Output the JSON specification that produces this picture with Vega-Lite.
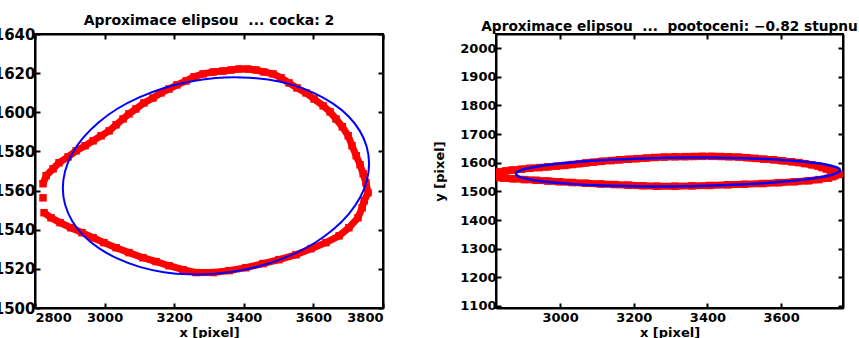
{
  "$schema": "https://vega.github.io/schema/vega-lite/v6.json",
  "background": "white",
  "padding": {"left": -8, "top": 13, "right": 0, "bottom": 0},
  "spacing": 47,
  "config": {
    "view": {"stroke": "#000", "strokeWidth": 2},
    "title": {"font": "DejaVu Sans", "fontSize": 14, "fontWeight": "bold", "color": "#000", "offset": -1},
    "axis": {
      "labelFont": "DejaVu Sans", "labelFontSize": 13, "labelFontWeight": "bold", "labelColor": "#000",
      "titleFont": "DejaVu Sans", "titleFontSize": 13, "titleFontWeight": "bold", "titleColor": "#000",
      "tickColor": "#000", "tickSize": -5, "tickWidth": 2, "domainColor": "#000", "domainWidth": 2,
      "grid": false, "labelPadding": 5, "format": "d"
    }
  },
  "datasets": {
    "red": [
      {"i": 0, "seg": "a", "x": 2823, "y": 1563.5},
      {"i": 1, "seg": "a", "x": 2832, "y": 1567.6},
      {"i": 2, "seg": "a", "x": 2852, "y": 1571.1},
      {"i": 3, "seg": "a", "x": 2869, "y": 1574.2},
      {"i": 4, "seg": "a", "x": 2895, "y": 1577.2},
      {"i": 5, "seg": "a", "x": 2918, "y": 1580.3},
      {"i": 6, "seg": "a", "x": 2944, "y": 1582.9},
      {"i": 7, "seg": "a", "x": 2967, "y": 1585.4},
      {"i": 8, "seg": "a", "x": 2990, "y": 1588.0},
      {"i": 9, "seg": "a", "x": 3013, "y": 1590.5},
      {"i": 10, "seg": "a", "x": 3033, "y": 1593.6},
      {"i": 11, "seg": "a", "x": 3053, "y": 1596.6},
      {"i": 12, "seg": "a", "x": 3070, "y": 1599.2},
      {"i": 13, "seg": "a", "x": 3090, "y": 1601.7},
      {"i": 14, "seg": "a", "x": 3113, "y": 1604.8},
      {"i": 15, "seg": "a", "x": 3139, "y": 1607.3},
      {"i": 16, "seg": "a", "x": 3162, "y": 1609.9},
      {"i": 17, "seg": "a", "x": 3185, "y": 1611.9},
      {"i": 18, "seg": "a", "x": 3208, "y": 1614.0},
      {"i": 19, "seg": "a", "x": 3234, "y": 1616.0},
      {"i": 20, "seg": "a", "x": 3257, "y": 1618.1},
      {"i": 21, "seg": "a", "x": 3283, "y": 1619.6},
      {"i": 22, "seg": "a", "x": 3312, "y": 1620.6},
      {"i": 23, "seg": "a", "x": 3340, "y": 1621.1},
      {"i": 24, "seg": "a", "x": 3363, "y": 1621.6},
      {"i": 25, "seg": "a", "x": 3386, "y": 1622.1},
      {"i": 26, "seg": "a", "x": 3412, "y": 1622.1},
      {"i": 27, "seg": "a", "x": 3435, "y": 1621.6},
      {"i": 28, "seg": "a", "x": 3458, "y": 1620.6},
      {"i": 29, "seg": "a", "x": 3484, "y": 1619.6},
      {"i": 30, "seg": "a", "x": 3507, "y": 1617.6},
      {"i": 31, "seg": "a", "x": 3530, "y": 1615.0},
      {"i": 32, "seg": "a", "x": 3553, "y": 1612.4},
      {"i": 33, "seg": "a", "x": 3579, "y": 1609.9},
      {"i": 34, "seg": "a", "x": 3602, "y": 1606.8},
      {"i": 35, "seg": "a", "x": 3628, "y": 1603.3},
      {"i": 36, "seg": "a", "x": 3648, "y": 1600.2},
      {"i": 37, "seg": "a", "x": 3665, "y": 1596.6},
      {"i": 38, "seg": "a", "x": 3683, "y": 1592.6},
      {"i": 39, "seg": "a", "x": 3700, "y": 1588.0},
      {"i": 40, "seg": "a", "x": 3711, "y": 1582.9},
      {"i": 41, "seg": "a", "x": 3723, "y": 1577.8},
      {"i": 42, "seg": "a", "x": 3734, "y": 1573.2},
      {"i": 43, "seg": "a", "x": 3743, "y": 1568.6},
      {"i": 44, "seg": "a", "x": 3751, "y": 1564.0},
      {"i": 45, "seg": "a", "x": 3757, "y": 1558.9},
      {"i": 46, "seg": "a", "x": 3746, "y": 1554.8},
      {"i": 47, "seg": "a", "x": 3740, "y": 1551.2},
      {"i": 48, "seg": "a", "x": 3728, "y": 1546.1},
      {"i": 49, "seg": "a", "x": 3702, "y": 1541.0},
      {"i": 50, "seg": "a", "x": 3674, "y": 1536.9},
      {"i": 51, "seg": "a", "x": 3636, "y": 1533.4},
      {"i": 52, "seg": "a", "x": 3593, "y": 1530.3},
      {"i": 53, "seg": "a", "x": 3550, "y": 1527.2},
      {"i": 54, "seg": "a", "x": 3501, "y": 1524.7},
      {"i": 55, "seg": "a", "x": 3455, "y": 1522.7},
      {"i": 56, "seg": "a", "x": 3406, "y": 1520.6},
      {"i": 57, "seg": "a", "x": 3358, "y": 1519.1},
      {"i": 58, "seg": "a", "x": 3312, "y": 1518.1},
      {"i": 59, "seg": "a", "x": 3263, "y": 1518.1},
      {"i": 60, "seg": "a", "x": 3225, "y": 1519.6},
      {"i": 61, "seg": "a", "x": 3185, "y": 1521.6},
      {"i": 62, "seg": "a", "x": 3148, "y": 1523.7},
      {"i": 63, "seg": "a", "x": 3110, "y": 1525.7},
      {"i": 64, "seg": "a", "x": 3070, "y": 1528.3},
      {"i": 65, "seg": "a", "x": 3033, "y": 1530.8},
      {"i": 66, "seg": "a", "x": 2998, "y": 1533.4},
      {"i": 67, "seg": "a", "x": 2967, "y": 1535.9},
      {"i": 68, "seg": "a", "x": 2935, "y": 1538.5},
      {"i": 69, "seg": "a", "x": 2903, "y": 1541.0},
      {"i": 70, "seg": "a", "x": 2872, "y": 1543.6},
      {"i": 71, "seg": "a", "x": 2846, "y": 1546.1},
      {"i": 72, "seg": "a", "x": 2826, "y": 1548.7},
      {"i": 73, "seg": "b", "x": 2823, "y": 1556.3}
    ],
    "ell": [
      {"t": 0, "x": 3760.0, "y": 1573.8},
      {"t": 10, "x": 3753.2, "y": 1582.4},
      {"t": 20, "x": 3733.3, "y": 1590.5},
      {"t": 30, "x": 3700.6, "y": 1598.0},
      {"t": 40, "x": 3656.5, "y": 1604.4},
      {"t": 50, "x": 3602.2, "y": 1609.8},
      {"t": 60, "x": 3539.4, "y": 1614.0},
      {"t": 70, "x": 3469.8, "y": 1616.7},
      {"t": 80, "x": 3395.7, "y": 1617.8},
      {"t": 90, "x": 3319.3, "y": 1617.5},
      {"t": 100, "x": 3242.9, "y": 1615.6},
      {"t": 110, "x": 3168.8, "y": 1612.3},
      {"t": 120, "x": 3099.4, "y": 1607.6},
      {"t": 130, "x": 3036.6, "y": 1601.8},
      {"t": 140, "x": 2982.5, "y": 1594.8},
      {"t": 150, "x": 2938.6, "y": 1587.0},
      {"t": 160, "x": 2906.3, "y": 1578.7},
      {"t": 170, "x": 2886.6, "y": 1570.0},
      {"t": 180, "x": 2880.0, "y": 1561.2},
      {"t": 190, "x": 2886.8, "y": 1552.6},
      {"t": 200, "x": 2906.7, "y": 1544.5},
      {"t": 210, "x": 2939.4, "y": 1537.0},
      {"t": 220, "x": 2983.5, "y": 1530.6},
      {"t": 230, "x": 3037.8, "y": 1525.2},
      {"t": 240, "x": 3100.6, "y": 1521.0},
      {"t": 250, "x": 3170.2, "y": 1518.3},
      {"t": 260, "x": 3244.3, "y": 1517.2},
      {"t": 270, "x": 3320.7, "y": 1517.5},
      {"t": 280, "x": 3397.1, "y": 1519.4},
      {"t": 290, "x": 3471.2, "y": 1522.7},
      {"t": 300, "x": 3540.6, "y": 1527.4},
      {"t": 310, "x": 3603.4, "y": 1533.2},
      {"t": 320, "x": 3657.5, "y": 1540.2},
      {"t": 330, "x": 3701.4, "y": 1548.0},
      {"t": 340, "x": 3733.7, "y": 1556.3},
      {"t": 350, "x": 3753.4, "y": 1565.0}
    ]
  },
  "hconcat": [
    {
      "width": 348,
      "height": 274,
      "title": {"text": "Aproximace elipsou\u00a0 ... cocka: 2"},
      "layer": [
        {
          "data": {"name": "red"},
          "mark": {"type": "line", "color": "#ff0000", "strokeWidth": 7, "clip": true},
          "encoding": {
            "x": {"field": "x", "type": "quantitative", "scale": {"domain": [2800, 3800], "nice": false, "zero": false},
                  "axis": {"orient": "bottom", "values": [2800, 3000, 3200, 3400, 3600, 3800], "title": "x [pixel]", "titlePadding": 2, "labelPadding": 8}},
            "y": {"field": "y", "type": "quantitative", "scale": {"domain": [1500, 1640], "nice": false, "zero": false},
                  "axis": {"orient": "left", "values": [1500, 1520, 1540, 1560, 1580, 1600, 1620, 1640], "title": null, "labelFontSize": 15}},
            "order": {"field": "i", "type": "quantitative"},
            "detail": {"field": "seg", "type": "nominal"}
          }
        },
        {
          "data": {"name": "red"},
          "mark": {"type": "square", "color": "#ff0000", "size": 56, "opacity": 1, "clip": true},
          "encoding": {
            "x": {"field": "x", "type": "quantitative", "axis": null},
            "y": {"field": "y", "type": "quantitative", "axis": null}
          }
        },
        {
          "data": {"name": "ell"},
          "mark": {"type": "line", "color": "#0000ff", "strokeWidth": 2, "interpolate": "cardinal-closed", "clip": true},
          "encoding": {
            "x": {"field": "x", "type": "quantitative", "axis": null},
            "y": {"field": "y", "type": "quantitative", "axis": null},
            "order": {"field": "t", "type": "quantitative"}
          }
        },
        {
          "data": {"name": "ell"},
          "mark": {"type": "point", "opacity": 0},
          "encoding": {
            "x": {"field": "x", "type": "quantitative", "axis": {"orient": "top", "values": [2800, 3000, 3200, 3400, 3600, 3800], "labels": false, "title": null}},
            "y": {"field": "y", "type": "quantitative", "axis": {"orient": "right", "values": [1500, 1520, 1540, 1560, 1580, 1600, 1620, 1640], "labels": false, "title": null}}
          }
        }
      ],
      "resolve": {"axis": {"x": "independent", "y": "independent"}}
    },
    {
      "width": 347,
      "height": 274,
      "title": {"text": "Aproximace elipsou\u00a0 ...\u00a0 pootoceni: −0.82 stupnu", "fontSize": 13.7},
      "layer": [
        {
          "data": {"name": "red"},
          "mark": {"type": "line", "color": "#ff0000", "strokeWidth": 7, "clip": true},
          "encoding": {
            "x": {"field": "x", "type": "quantitative", "scale": {"domain": [2826, 3768], "nice": false, "zero": false},
                  "axis": {"orient": "bottom", "values": [3000, 3200, 3400, 3600], "title": "x [pixel]", "titlePadding": 2, "labelPadding": 8}},
            "y": {"field": "y", "type": "quantitative", "scale": {"domain": [1093, 2049], "nice": false, "zero": false},
                  "axis": {"orient": "left", "values": [1100, 1200, 1300, 1400, 1500, 1600, 1700, 1800, 1900, 2000], "title": "y [pixel]", "titlePadding": 13}},
            "order": {"field": "i", "type": "quantitative"},
            "detail": {"field": "seg", "type": "nominal"}
          }
        },
        {
          "data": {"name": "red"},
          "mark": {"type": "square", "color": "#ff0000", "size": 56, "opacity": 1, "clip": true},
          "encoding": {
            "x": {"field": "x", "type": "quantitative", "axis": null},
            "y": {"field": "y", "type": "quantitative", "axis": null}
          }
        },
        {
          "data": {"name": "ell"},
          "mark": {"type": "line", "color": "#0000ff", "strokeWidth": 2.5, "interpolate": "cardinal-closed", "clip": true},
          "encoding": {
            "x": {"field": "x", "type": "quantitative", "axis": null},
            "y": {"field": "y", "type": "quantitative", "axis": null},
            "order": {"field": "t", "type": "quantitative"}
          }
        },
        {
          "data": {"name": "ell"},
          "mark": {"type": "point", "opacity": 0},
          "encoding": {
            "x": {"field": "x", "type": "quantitative", "axis": {"orient": "top", "values": [3000, 3200, 3400, 3600], "labels": false, "title": null}},
            "y": {"field": "y", "type": "quantitative", "axis": {"orient": "right", "values": [1100, 1200, 1300, 1400, 1500, 1600, 1700, 1800, 1900, 2000], "labels": false, "title": null}}
          }
        }
      ],
      "resolve": {"axis": {"x": "independent", "y": "independent"}}
    }
  ]
}
